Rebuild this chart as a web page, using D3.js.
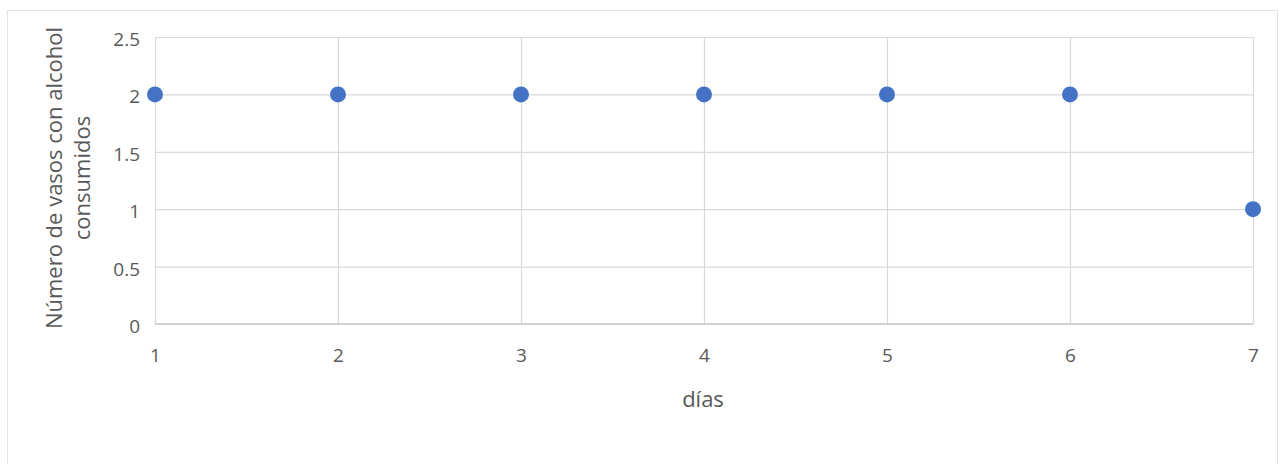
<!DOCTYPE html>
<html>
<head>
<meta charset="utf-8">
<script src="https://cdn.jsdelivr.net/npm/d3@7"></script>
<style>
  html, body { margin: 0; padding: 0; background: #fff; }
  svg text { font-family: "Open Sans", "Noto Sans", sans-serif; fill: #595959; }
</style>
</head>
<body>
<svg id="chart" width="1286" height="464"></svg>
<script>
// Daily count of alcoholic drinks
const dias = [1, 2, 3, 4, 5, 6, 7];
const vasos = [2, 2, 2, 2, 2, 2, 1];
const yTicks = [0, 0.5, 1, 1.5, 2, 2.5];
const xTicks = [1, 2, 3, 4, 5, 6, 7];

const svg = d3.select("#chart");

// Chart frame
svg.append("rect")
  .attr("x", 7.5).attr("y", 10.5)
  .attr("width", 1270).attr("height", 470)
  .attr("fill", "#fff").attr("stroke", "#e3e3e3").attr("stroke-width", 1);

const plot = { left: 155, right: 1253, top: 37, bottom: 324 };

const x = d3.scaleLinear().domain([1, 7]).range([plot.left, plot.right]);
const y = d3.scaleLinear().domain([0, 2.5]).range([plot.bottom, plot.top]);

// Horizontal gridlines + y tick labels
const yAxis = d3.axisLeft(y).tickValues(yTicks).tickSize(0).tickPadding(0)
  .tickFormat(d => String(d));
const gy = svg.append("g").attr("transform", `translate(${plot.left},0)`).call(yAxis);
gy.select(".domain").remove();
gy.selectAll(".tick text").attr("x", -15).attr("font-size", 19).attr("dy", "0.45em");
gy.selectAll(".tick").append("line")
  .attr("x1", 0).attr("x2", plot.right - plot.left)
  .attr("stroke", "#d9d9d9").attr("stroke-width", 1.2);

// Vertical gridlines + x tick labels
const xAxis = d3.axisBottom(x).tickValues(xTicks).tickSize(0).tickFormat(d => String(d));
const gx = svg.append("g").attr("transform", `translate(0,${plot.bottom})`).call(xAxis);
gx.select(".domain").remove();
gx.selectAll(".tick text").attr("y", 38).attr("dy", null).attr("font-size", 19);
gx.selectAll(".tick").append("line")
  .attr("y1", 0).attr("y2", plot.top - plot.bottom)
  .attr("stroke", "#d9d9d9").attr("stroke-width", 1.2);

// Bottom axis line
svg.append("line")
  .attr("x1", plot.left).attr("x2", plot.right)
  .attr("y1", plot.bottom).attr("y2", plot.bottom)
  .attr("stroke", "#c8c8c8").attr("stroke-width", 1.5);

// Points
svg.append("g").selectAll("circle")
  .data(dias.map((d, i) => ({ d, v: vasos[i] })))
  .join("circle")
  .attr("cx", p => x(p.d))
  .attr("cy", p => y(p.v))
  .attr("r", 8)
  .attr("fill", "#4472c4");

// Axis titles
svg.append("text")
  .attr("x", (plot.left + plot.right) / 2 - 1).attr("y", 407)
  .attr("text-anchor", "middle")
  .attr("font-size", 22)
  .text("días");

const yTitle = svg.append("text")
  .attr("transform", `translate(62,178) rotate(-90)`)
  .attr("text-anchor", "middle")
  .attr("font-size", 22);
yTitle.append("tspan").attr("x", 0).attr("dy", 0).text("Número de vasos con alcohol");
yTitle.append("tspan").attr("x", 0).attr("dy", 28).text("consumidos");
</script>
</body>
</html>
